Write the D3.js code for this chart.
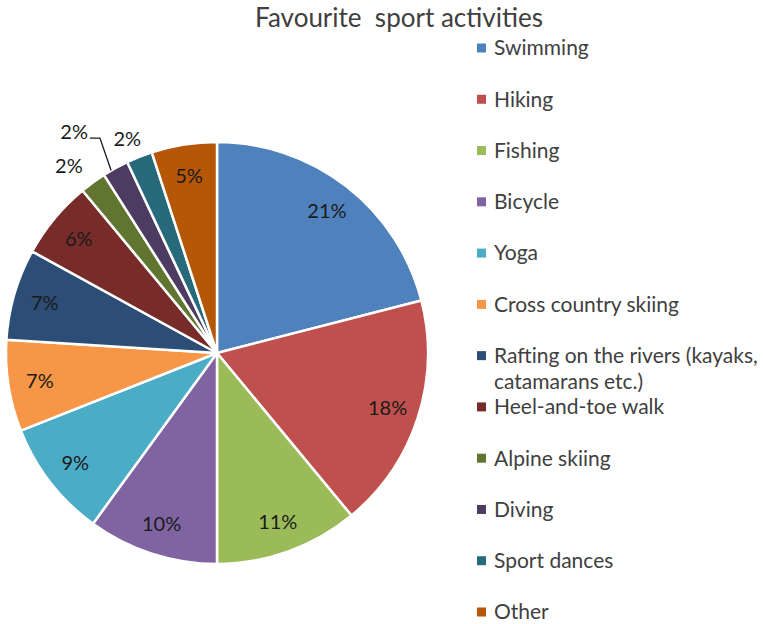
<!DOCTYPE html>
<html>
<head>
<meta charset="utf-8">
<script src="https://cdn.jsdelivr.net/npm/d3@7"></script>
<style>
  html, body { margin: 0; padding: 0; background: #fff; }
  svg text { font-family: Lato, "Open Sans", sans-serif; }
</style>
</head>
<body>
<svg id="chart" width="763" height="624"></svg>
<script>
// Survey results: share of respondents per favourite activity (%)
const categories = [
  "Swimming", "Hiking", "Fishing", "Bicycle", "Yoga", "Cross country skiing",
  "Rafting on the rivers (kayaks, catamarans etc.)", "Heel-and-toe walk",
  "Alpine skiing", "Diving", "Sport dances", "Other"
];
const shares = [21, 18, 11, 10, 9, 7, 7, 6, 2, 2, 2, 5];
const colors = [
  "#4F81BD", "#C0504D", "#9BBB59", "#8064A2", "#4BACC6", "#F79646",
  "#2C4D75", "#772C2A", "#5F7530", "#4D3B62", "#276A7C", "#B65708"
];
// legend text lines (long names wrap)
const legendLines = [
  ["Swimming"], ["Hiking"], ["Fishing"], ["Bicycle"], ["Yoga"], ["Cross country skiing"],
  ["Rafting on the rivers (kayaks,", "catamarans etc.)"], ["Heel-and-toe walk"],
  ["Alpine skiing"], ["Diving"], ["Sport dances"], ["Other"]
];

const svg = d3.select("#chart");
const cx = 217, cy = 353, R = 211;

svg.append("text")
  .attr("x", 399).attr("y", 27)
  .attr("text-anchor", "middle")
  .attr("font-size", 26)
  .attr("fill", "#404040")
  .style("white-space", "pre")
  .text("Favourite  sport activities");

const data = categories.map((c, i) => ({ name: c, value: shares[i], color: colors[i], i }));
const pie = d3.pie().value(d => d.value).sort(null);
const arcs = pie(data);
const arc = d3.arc().innerRadius(0).outerRadius(R);

const g = svg.append("g").attr("transform", `translate(${cx},${cy})`);

g.selectAll("path.slice")
  .data(arcs)
  .join("path")
  .attr("class", "slice")
  .attr("d", arc)
  .attr("fill", d => d.data.color)
  .attr("stroke", "#fff")
  .attr("stroke-width", 2.5)
  .attr("stroke-linejoin", "round");

// label placement: inside at 0.85R, thin slices pushed outside
const outside = { 8: { r: 1.13, da: -0.042 }, 10: { r: 1.1, da: -0.02 } };
function polar(r, a) { return [r * Math.sin(a), -r * Math.cos(a)]; }
function labelPos(d) {
  const mid = (d.startAngle + d.endAngle) / 2;
  const o = outside[d.data.i];
  if (o) return polar(R * o.r, mid + o.da);
  return polar(R * 0.85, mid);
}

const fmt = d => d3.format(".0f")(d.data.value) + "%";

g.selectAll("text.lbl")
  .data(arcs.filter(d => d.data.i !== 9))
  .join("text")
  .attr("class", "lbl")
  .attr("x", d => labelPos(d)[0])
  .attr("y", d => labelPos(d)[1])
  .attr("dy", "0.35em")
  .attr("text-anchor", "middle")
  .attr("font-size", 20)
  .attr("fill", "#1a1a1a")
  .text(fmt);

// Diving: label with leader line
const diving = arcs[9];
const mid = (diving.startAngle + diving.endAngle) / 2;
const p0 = polar(R, mid - 0.023);
const p1 = polar(R * 1.16, mid + 0.004);
const p2 = [p1[0] - 10, p1[1]];
g.append("path")
  .attr("d", d3.line()([p0, p1, p2]))
  .attr("fill", "none")
  .attr("stroke", "#1a1a1a")
  .attr("stroke-width", 1.3);
g.append("text")
  .attr("x", p2[0] - 2).attr("y", p2[1] - 6)
  .attr("dy", "0.35em")
  .attr("text-anchor", "end")
  .attr("font-size", 20)
  .attr("fill", "#1a1a1a")
  .text(fmt(diving));

// legend
const legendY = d3.scalePoint().domain(d3.range(categories.length)).range([48, 612]);
const lg = svg.append("g");
const items = lg.selectAll("g.item")
  .data(data)
  .join("g")
  .attr("class", "item")
  .attr("transform", d => `translate(477,${legendY(d.i)})`);
items.append("rect")
  .attr("x", 0).attr("y", -4.5)
  .attr("width", 9).attr("height", 9)
  .attr("fill", d => d.color);
items.append("text")
  .attr("x", 17)
  .attr("font-size", 21)
  .attr("fill", "#404040")
  .selectAll("tspan")
  .data(d => legendLines[d.i])
  .join("tspan")
  .attr("x", 17)
  .attr("y", (t, k) => k * 26)
  .attr("dy", "0.35em")
  .text(t => t);
</script>
</body>
</html>
